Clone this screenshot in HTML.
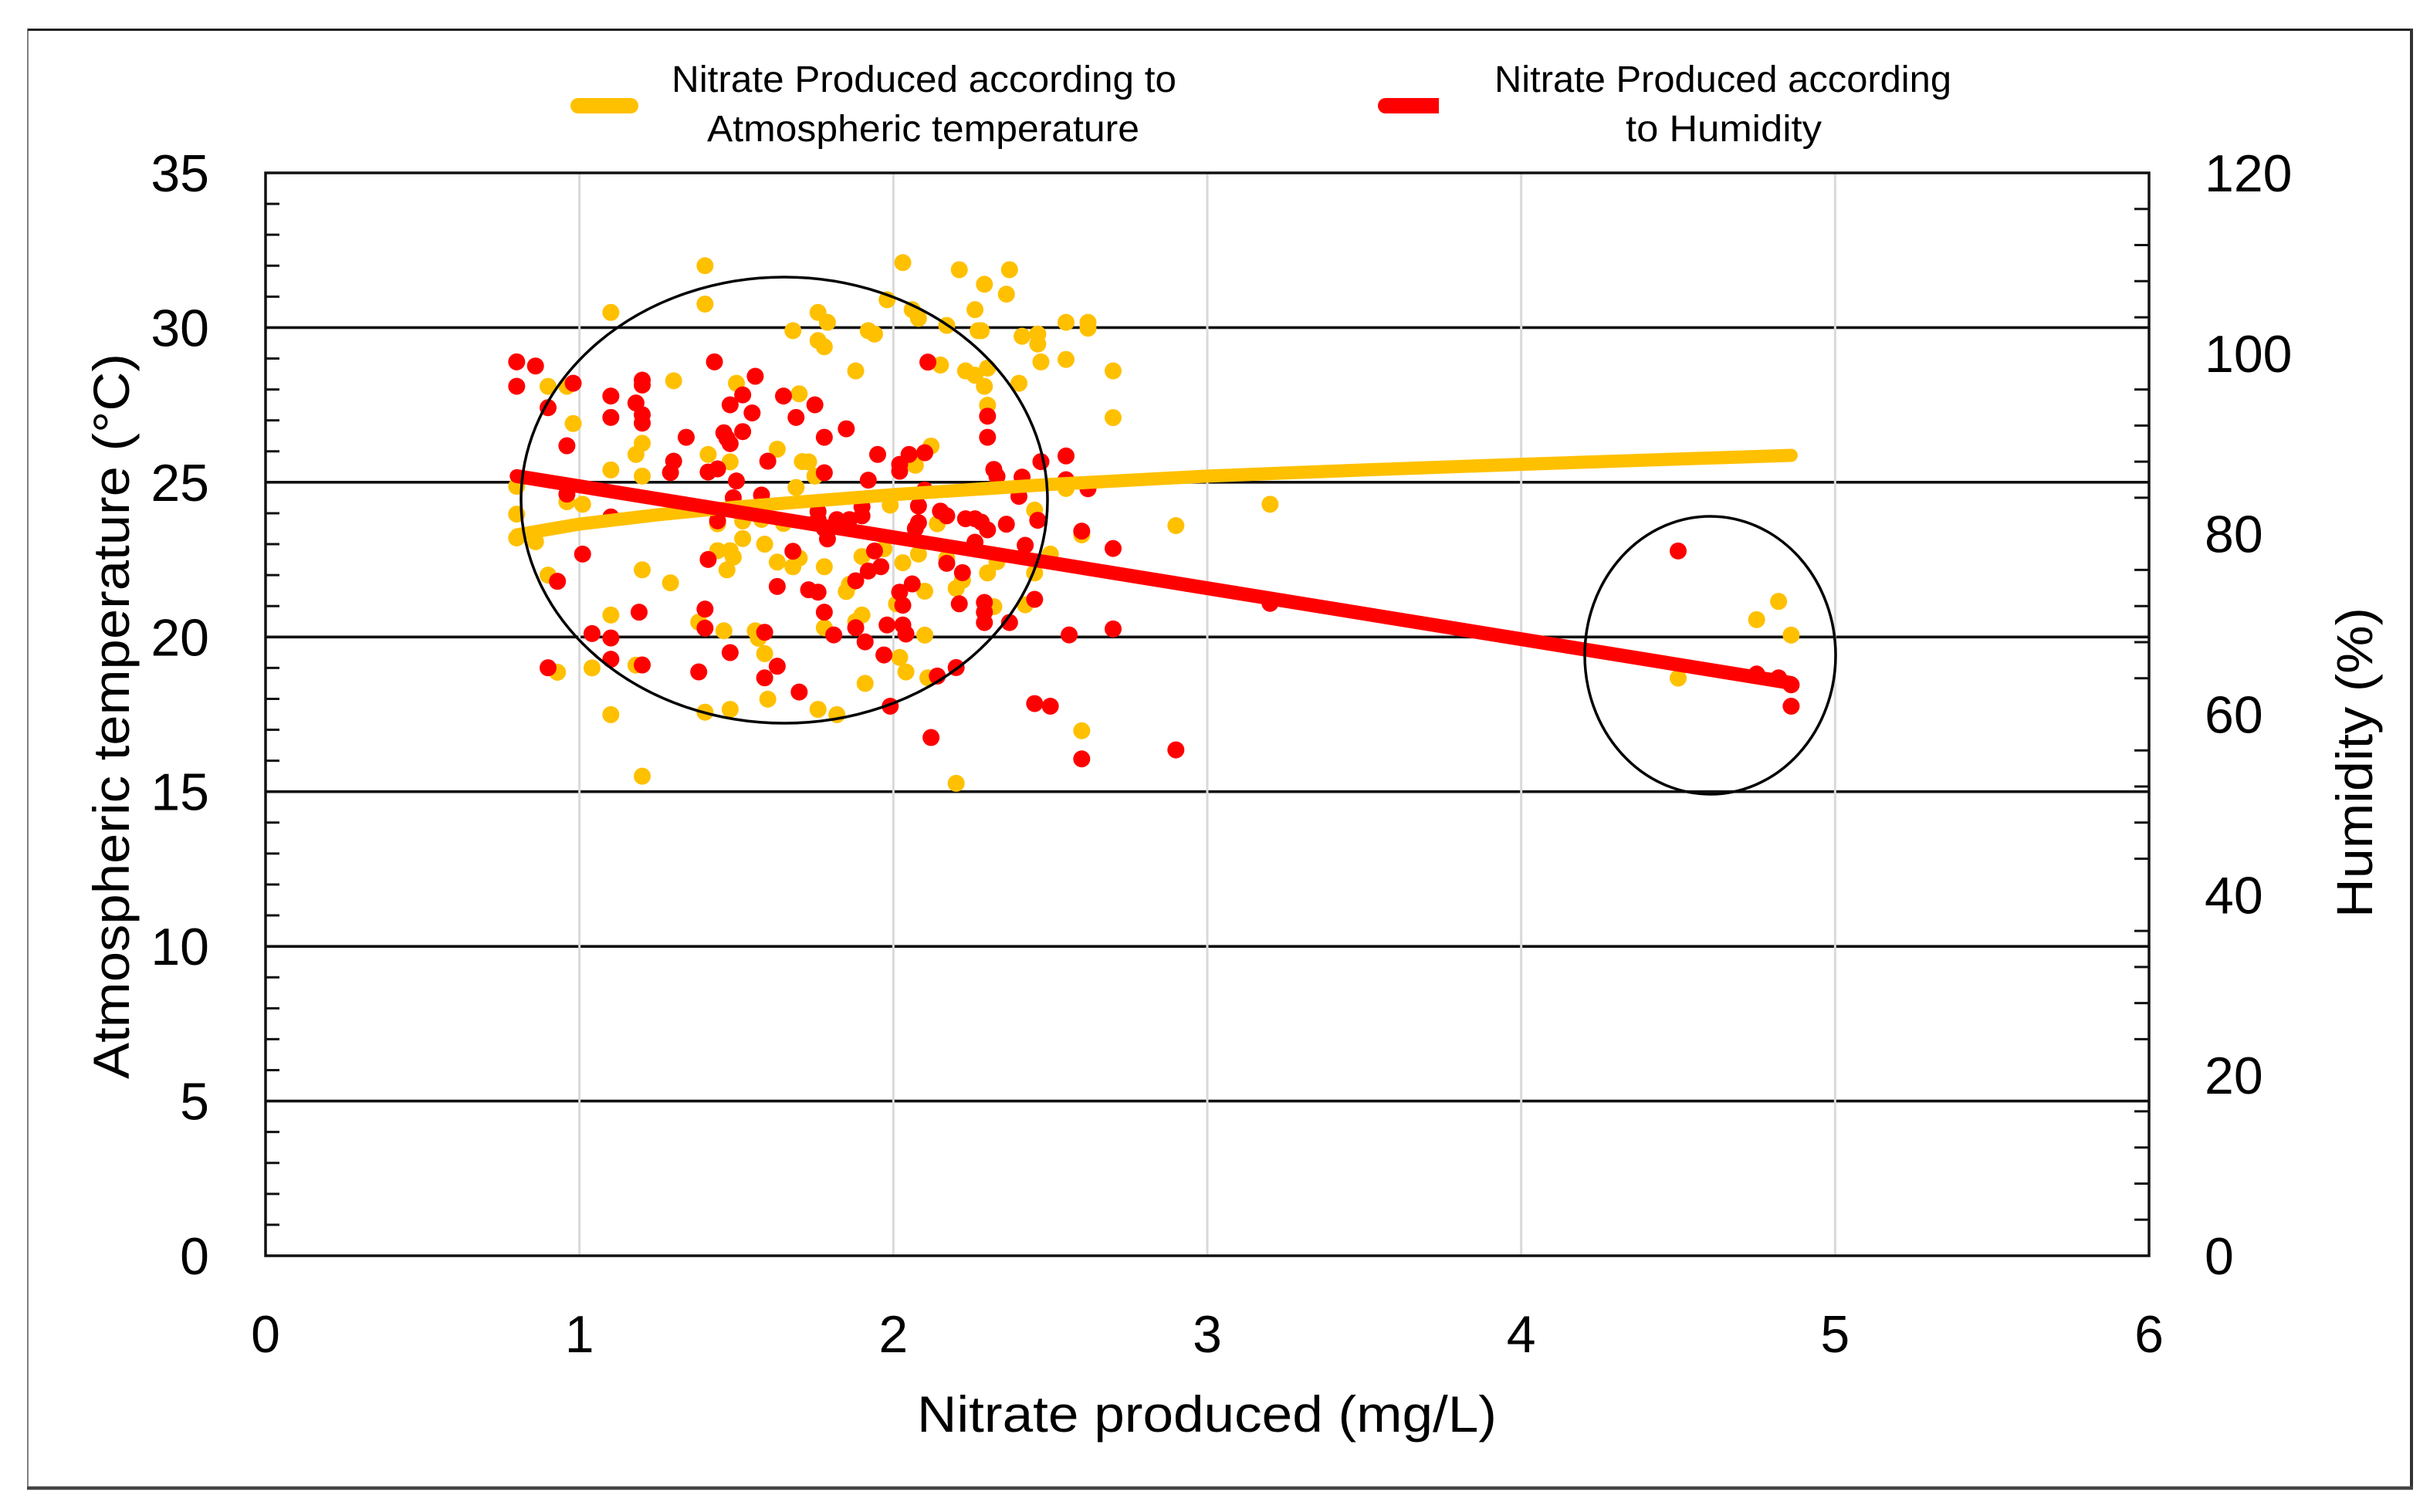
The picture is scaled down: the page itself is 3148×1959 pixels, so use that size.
<!DOCTYPE html>
<html lang="en">
<head>
<meta charset="utf-8">
<title>Nitrate produced vs atmospheric temperature and humidity</title>
<style>
html,body{margin:0;padding:0;background:#fff;}
svg{display:block;}
text{font-family:"Liberation Sans",sans-serif;fill:#000;}
</style>
</head>
<body>
<svg id="chart" xmlns="http://www.w3.org/2000/svg" width="3148" height="1959" viewBox="0 0 3148 1959">
  <rect x="0" y="0" width="3148" height="1959" fill="#fff"/>
  <g>
    <line x1="36" y1="37" x2="36" y2="1930" stroke="#808080" stroke-width="2"/>
    <line x1="36" y1="38.5" x2="3126" y2="38.5" stroke="#222" stroke-width="3"/>
    <line x1="3124" y1="37" x2="3124" y2="1930" stroke="#333" stroke-width="4"/>
    <line x1="35" y1="1928" x2="3126" y2="1928" stroke="#444" stroke-width="4.5"/>
  </g>
  <g id="gridH"></g>
  <g id="gridV"></g>
  <g id="ticks"></g>
  <rect x="344" y="224" width="2440" height="1403" fill="none" stroke="#111" stroke-width="3.5"/>
  <g id="tempDots"></g>
  <g id="humDots"></g>
  <g id="trends"></g>
  <ellipse cx="1016" cy="648" rx="341" ry="289" fill="none" stroke="#000" stroke-width="3.5"/>
  <ellipse cx="2215.5" cy="849" rx="162.5" ry="180" fill="none" stroke="#000" stroke-width="3.5"/>
  <g id="labels" font-size="68"></g>
  <text x="1563.5" y="1855" font-size="66" text-anchor="middle" textLength="751" lengthAdjust="spacingAndGlyphs">Nitrate produced (mg/L)</text>
  <text transform="translate(167,928) rotate(-90)" font-size="66" text-anchor="middle" textLength="940" lengthAdjust="spacingAndGlyphs">Atmospheric temperature (°C)</text>
  <text transform="translate(3073,988) rotate(-90)" font-size="66" text-anchor="middle" textLength="402" lengthAdjust="spacingAndGlyphs">Humidity (%)</text>
  <g>
    <g>
      <rect x="739" y="127" width="88" height="20" rx="10" fill="#FFC000"/>
      <text x="1197" y="119" font-size="48" text-anchor="middle" textLength="654" lengthAdjust="spacingAndGlyphs">Nitrate Produced according to</text>
      <text x="1196" y="183" font-size="48" text-anchor="middle" textLength="560" lengthAdjust="spacingAndGlyphs">Atmospheric temperature</text>
    </g>
    <g>
      <path d="M1864 127H1795A10 10 0 0 0 1795 147H1864Z" fill="#FF0000"/>
      <text x="2232" y="119" font-size="48" text-anchor="middle" textLength="592" lengthAdjust="spacingAndGlyphs">Nitrate Produced according</text>
      <text x="2233" y="183" font-size="48" text-anchor="middle" textLength="254" lengthAdjust="spacingAndGlyphs">to Humidity</text>
    </g>
  </g>
</svg>
<script>
var xTicks = [0, 1, 2, 3, 4, 5, 6];
var tempTicks = [0, 5, 10, 15, 20, 25, 30, 35];
var humTicks = [0, 20, 40, 60, 80, 100, 120];

var tempX = [
1.40,1.40,1.10,0.90,0.96,0.98,1.30,1.50,1.20,1.18,1.10,1.20,1.41,1.48,1.63,1.70,1.68,1.71,1.69,0.80,
2.03,2.21,2.37,2.29,2.36,1.98,2.26,2.06,2.08,1.76,1.79,1.92,1.94,2.17,2.27,2.28,2.41,2.46,2.46,2.55,
2.62,2.62,1.76,1.78,1.88,2.15,2.47,2.55,2.70,2.23,2.26,2.30,2.40,2.29,2.30,2.70,2.12,2.07,1.73,1.75,
0.80,0.80,0.86,0.96,1.01,0.90,1.20,1.29,1.10,1.38,1.46,1.56,1.57,1.59,0.93,1.04,1.18,1.60,1.48,1.40,
1.10,1.44,1.52,1.58,1.65,1.52,1.59,1.44,1.48,1.49,1.47,1.63,1.68,1.70,
1.78,1.90,1.97,2.03,2.08,1.99,2.14,2.45,2.60,2.50,2.33,2.30,2.45,2.22,2.20,2.10,1.86,1.85,2.17,2.32,
2.42,2.01,1.90,1.88,1.78,2.10,2.02,2.04,2.11,1.91,1.76,1.82,2.60,2.20,1.20,2.90,3.20,4.82,4.75,4.86,
4.50,2.55];
var temperature = [
32.0,30.76,30.49,28.1,28.1,26.9,28.28,28.2,26.26,25.9,25.4,25.2,25.9,25.66,26.07,27.86,29.9,25.67,24.83,24.87,
32.1,31.87,31.87,31.4,31.08,30.9,30.58,30.58,30.3,30.49,30.17,29.9,29.79,30.07,29.9,29.9,29.72,29.79,29.47,30.17,
30.17,29.98,29.58,29.38,28.6,28.79,28.89,28.97,28.6,28.6,28.46,28.69,28.2,28.1,27.49,27.09,26.17,25.55,25.66,25.2,
23.97,23.2,23.08,24.37,24.29,22.0,22.17,21.75,20.71,20.48,20.2,20.2,19.96,19.46,18.86,19.0,19.09,17.99,17.66,17.57,
17.49,23.66,23.75,23.8,23.67,23.18,23.0,22.79,22.79,22.58,22.17,22.42,22.27,22.55,
22.27,22.6,22.85,22.4,22.68,24.26,23.66,24.1,23.3,22.68,22.43,22.07,22.07,21.83,21.57,21.48,21.7,21.47,22.54,20.98,
21.04,21.07,20.71,20.5,20.3,20.06,19.34,18.87,18.68,18.5,17.66,17.49,16.97,15.27,15.5,23.6,24.29,21.15,20.56,20.06,
18.67,24.8];

var humX = [
0.80,0.86,0.80,0.98,0.90,0.96,1.10,1.10,1.20,1.20,1.18,1.20,1.20,1.34,1.30,1.29,1.43,1.56,1.52,1.48,
1.55,1.65,1.69,1.52,1.46,1.47,1.48,1.60,1.41,1.44,1.50,1.58,1.49,0.96,1.10,
2.11,1.75,1.85,1.78,1.95,2.30,2.30,2.05,2.10,2.02,2.02,1.78,1.92,2.32,2.33,2.41,2.47,2.55,2.55,2.62,2.10,
1.68,1.41,1.01,0.93,1.44,1.63,1.40,1.19,1.40,1.04,1.10,1.59,1.48,1.63,1.59,1.70,1.10,1.20,1.38,0.90,
1.73,1.76,1.78,1.81,1.88,1.88,1.91,1.97,1.92,1.96,1.94,1.98,2.03,2.04,2.02,2.06,2.03,2.17,2.22,2.21,
2.29,2.29,2.29,2.37,2.45,2.42,2.26,2.36,2.30,2.46,2.26,2.23,2.28,2.15,2.17,2.08,2.08,2.07,2.40,2.60,
2.70,2.56,2.70,2.45,2.50,2.60,2.12,1.99,2.20,2.14,1.90,1.90,1.76,1.76,1.82,1.86,1.79,1.78,
3.20,2.90,4.50,4.75,4.82,4.86,4.86];
var humidity = [
99.06,98.6,96.35,96.69,93.98,89.76,95.27,92.9,97.03,96.49,94.5,93.2,92.27,90.7,88.05,86.8,99.06,97.46,95.4,94.3,
93.4,95.27,92.9,91.33,91.2,90.57,90.0,88.05,86.85,87.2,85.86,84.3,84.0,84.4,81.87,
99.03,94.3,91.64,90.7,88.8,93.04,90.7,88.8,88.99,87.7,86.94,86.77,85.95,87.14,86.37,86.29,88.0,88.63,86.0,85.0,84.86,
78.07,77.16,77.76,74.74,81.44,74.17,71.66,71.32,69.55,68.95,68.46,69.09,66.84,65.33,64.04,62.47,66.1,65.47,64.7,65.16,
73.8,73.54,71.32,68.8,74.8,69.6,68.03,66.58,75.88,76.36,78.1,69.9,69.9,68.9,73.54,74.45,72.09,76.73,75.7,72.25,
72.4,71.32,70.17,70.17,72.74,78.73,79.07,81.07,80.44,81.5,81.67,81.67,81.3,82.52,82.0,83.09,81.24,80.58,84.15,80.3,
78.38,68.8,69.46,61.19,60.9,55.06,57.43,60.9,65.18,64.24,82.0,83.0,82.46,81.6,81.58,81.58,79.44,80.58,
72.3,56.06,78.1,64.47,64.04,63.27,60.9];

var tempTrendX = [0.8, 1, 1.25, 1.5, 1.75, 2, 2.5, 3, 3.5, 4, 4.5, 4.86];
var tempTrendY = [23.3, 23.65, 23.95, 24.2, 24.4, 24.6, 24.93, 25.2, 25.4, 25.58, 25.75, 25.87];
var humTrendX = [0.8, 4.86];
var humTrendY = [86.4, 63.47];

var NS = 'http://www.w3.org/2000/svg';
function px(v) { return 344 + v * (2440 / 6); }
function pyT(v) { return 1627 - v * (1403 / 35); }
function pyH(v) { return 1627 - v * (1403 / 120); }
function make(tag, parentId, attrs) {
  var el = document.createElementNS(NS, tag);
  for (var k in attrs) { el.setAttribute(k, attrs[k]); }
  document.getElementById(parentId).appendChild(el);
  return el;
}

tempTicks.forEach(function (t) {
  if (t === 0 || t === 35) return;
  var el = make('line', 'gridH', {x1: 344, x2: 2784, y1: pyT(t), y2: pyT(t), stroke: '#111', 'stroke-width': 3.6});
  
  
});
xTicks.forEach(function (t) {
  if (t === 0 || t === 6) return;
  var el = make('line', 'gridV', {x1: px(t), x2: px(t), y1: 224, y2: 1627, stroke: '#d9d9d9', 'stroke-width': 3});
  
  
});
for (var m = 1; m < 35; m++) {
  if (m % 5 === 0) continue;
  var lt = make('line', 'ticks', {x1: 344, x2: 362, y1: pyT(m), y2: pyT(m), stroke: '#111', 'stroke-width': 3});
  
  
}
for (var n = 4; n < 120; n += 4) {
  if (n % 20 === 0) continue;
  var rt = make('line', 'ticks', {x1: 2765, x2: 2784, y1: pyH(n), y2: pyH(n), stroke: '#111', 'stroke-width': 3});
  
  
}

temperature.forEach(function (v, i) {
  var c = make('circle', 'tempDots', {cx: px(tempX[i]), cy: pyT(v), r: 11, fill: '#FFC000'});
  
  
});
humidity.forEach(function (v, i) {
  var c = make('circle', 'humDots', {cx: px(humX[i]), cy: pyH(v), r: 11, fill: '#FF0000'});
  
  
});

var tempPts = tempTrendX.map(function (x, i) { return px(x) + ',' + pyT(tempTrendY[i]); }).join(' ');
var humPts = humTrendX.map(function (x, i) { return px(x) + ',' + pyH(humTrendY[i]); }).join(' ');
var tl = make('polyline', 'trends', {points: tempPts, fill: 'none', stroke: '#FFC000', 'stroke-width': 17, 'stroke-linecap': 'round', 'stroke-linejoin': 'round'});


var hl = make('polyline', 'trends', {points: humPts, fill: 'none', stroke: '#FF0000', 'stroke-width': 18, 'stroke-linecap': 'round', 'stroke-linejoin': 'round'});



xTicks.forEach(function (t) {
  var l = make('text', 'labels', {x: px(t), y: 1752, 'text-anchor': 'middle'});
  l.textContent = t;
  
  
});
tempTicks.forEach(function (t) {
  var l = make('text', 'labels', {x: 271, y: pyT(t) + 24, 'text-anchor': 'end'});
  l.textContent = t;
  
  
});
humTicks.forEach(function (t) {
  var l = make('text', 'labels', {x: 2856, y: pyH(t) + 24, 'text-anchor': 'start'});
  l.textContent = t;
  
  
});
</script>
</body>
</html>
